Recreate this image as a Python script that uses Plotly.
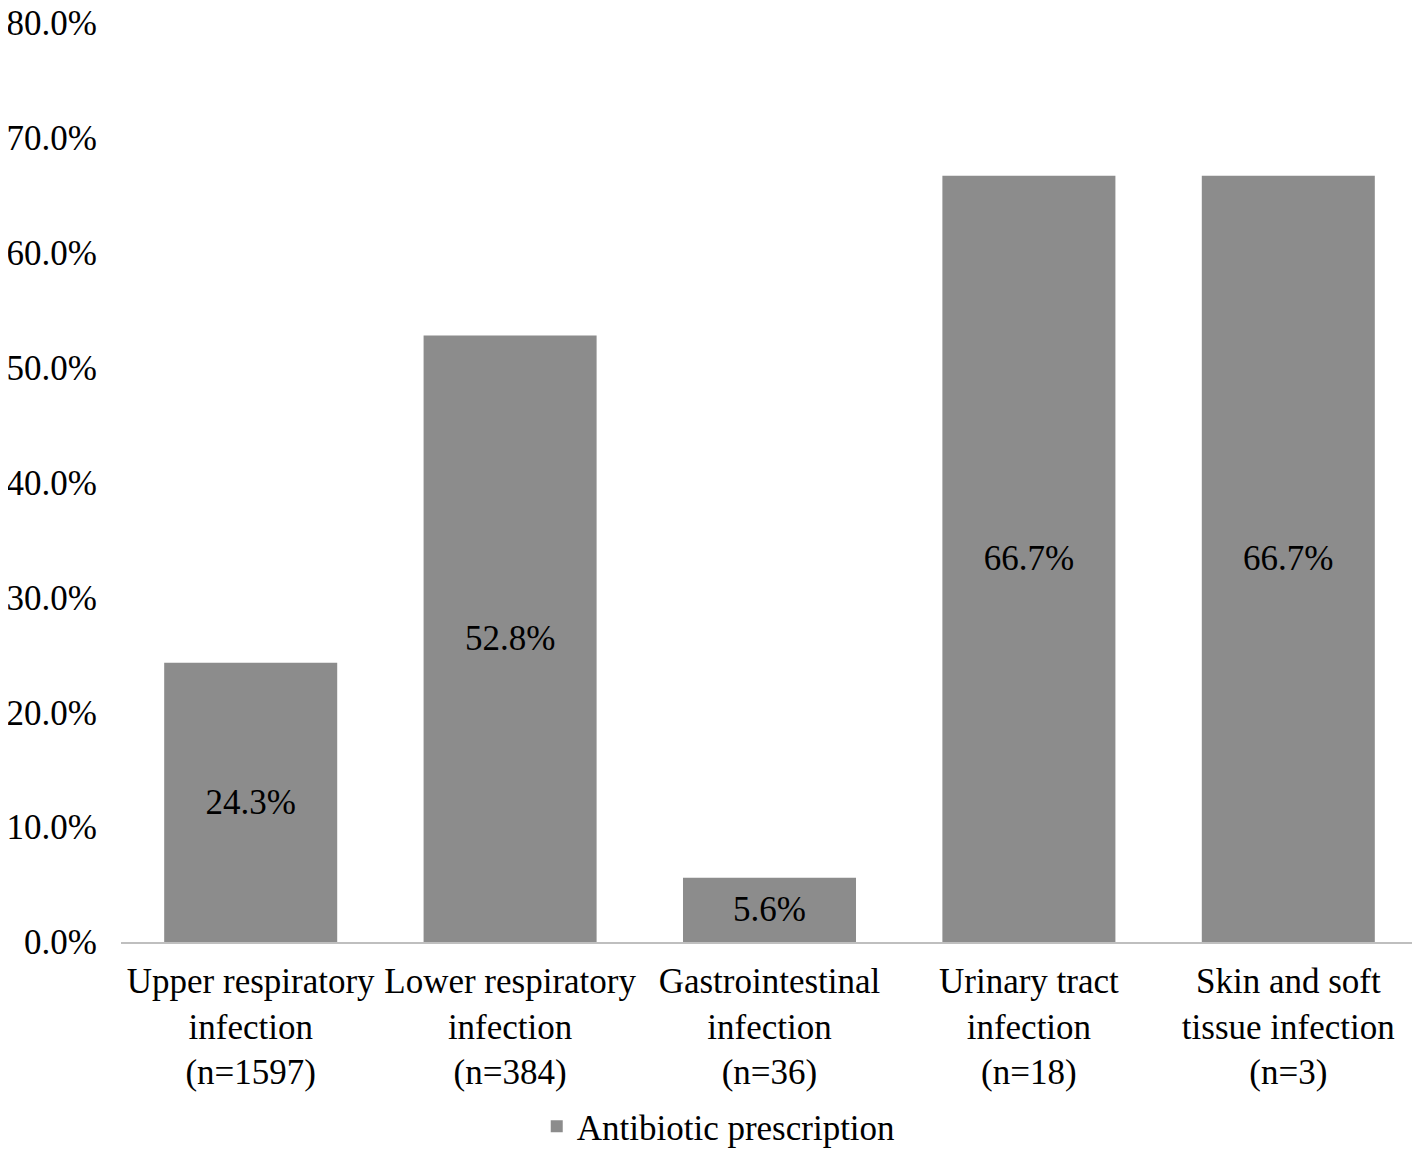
import plotly.graph_objects as go

categories = [
    "Upper respiratory<br>infection<br>(n=1597)",
    "Lower respiratory<br>infection<br>(n=384)",
    "Gastrointestinal<br>infection<br>(n=36)",
    "Urinary tract<br>infection<br>(n=18)",
    "Skin and soft<br>tissue infection<br>(n=3)",
]
values = [24.3, 52.8, 5.6, 66.7, 66.7]
series_name = "Antibiotic prescription"
tick_vals = [0, 10, 20, 30, 40, 50, 60, 70, 80]
tick_text = [f"{v:.1f}%" for v in tick_vals]

FONT = "Liberation Serif, Times New Roman, serif"
FS = 35

fig = go.Figure(
    go.Bar(
        x=categories,
        y=values,
        name=series_name,
        marker=dict(color="#8c8c8c", line=dict(width=0)),
        text=[f"{v:.1f}%" for v in values],
        textposition="inside",
        insidetextanchor="middle",
        textangle=0,
        textfont=dict(family=FONT, size=FS, color="black"),
        showlegend=True,
    )
)

# page body has an 8px default margin; figure is sized to fill the rest
fig.update_layout(
    width=1412,
    height=1148,
    margin=dict(l=113, r=2, t=15, b=214),
    paper_bgcolor="white",
    plot_bgcolor="white",
    font=dict(family=FONT, size=FS, color="black"),
    bargap=0.333,
    uniformtext=dict(mode=False),
    legend=dict(
        orientation="h",
        xref="container",
        yref="container",
        x=0.503,
        xanchor="center",
        y=0.0,
        yanchor="bottom",
        font=dict(family=FONT, size=FS, color="black"),
    ),
    xaxis=dict(
        automargin=False,
        showline=True,
        linecolor="#bfbfbf",
        linewidth=2,
        ticks="",
        showgrid=False,
        ticklabelstandoff=7,
        tickfont=dict(family=FONT, size=FS, color="black"),
        tickangle=0,
    ),
    yaxis=dict(
        automargin=False,
        range=[0, 80],
        tickvals=tick_vals,
        ticktext=tick_text,
        showgrid=False,
        showline=False,
        zeroline=False,
        ticks="",
        ticklabelstandoff=23,
        ticklabeloverflow="allow",
        tickfont=dict(family=FONT, size=FS, color="black"),
    ),
)

fig.write_html("out.html")
